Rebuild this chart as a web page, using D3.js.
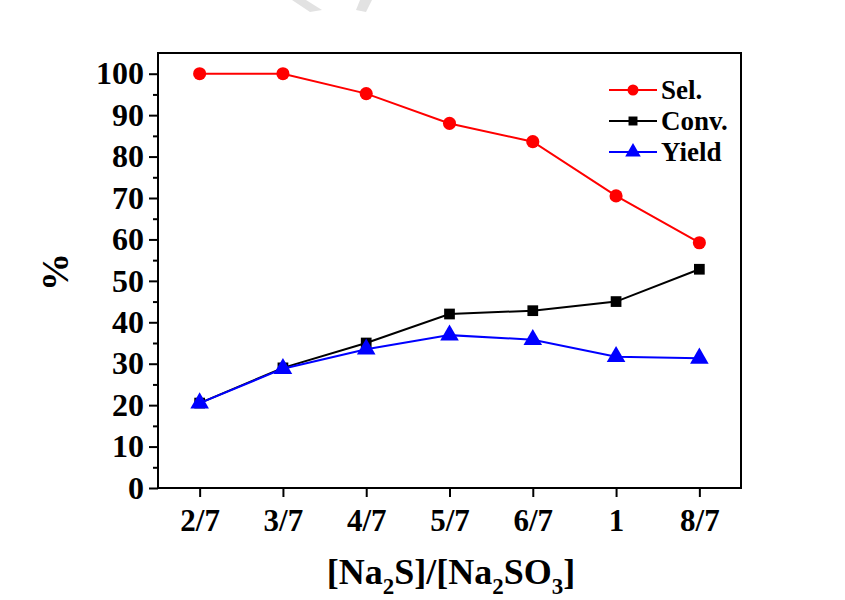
<!DOCTYPE html>
<html>
<head>
<meta charset="utf-8">
<script src="https://cdn.jsdelivr.net/npm/d3@7/dist/d3.min.js"></script>
<style>
  body { margin: 0; background: #fff; }
  svg { display: block; font-family: "Liberation Serif", "Times New Roman", serif; }
</style>
</head>
<body>
<div id="chart"></div>
<script>
// ratio labels on the x axis
const ratios = ['2/7', '3/7', '4/7', '5/7', '6/7', '1', '8/7'];
const selValues   = [100, 100, 95.2, 88.0, 83.6, 70.5, 59.2];
const convValues  = [20.5, 29.0, 35.0, 42.0, 42.8, 45.0, 52.8];
const yieldValues = [20.5, 28.8, 33.5, 36.9, 35.8, 31.7, 31.3];
const yTicks = [0, 10, 20, 30, 40, 50, 60, 70, 80, 90, 100];

const W = 845, H = 600;
const margin = { top: 53, right: 104, bottom: 112, left: 158 };
const w = W - margin.left - margin.right;
const h = H - margin.top - margin.bottom;

const svg = d3.select('#chart').append('svg')
  .attr('width', W).attr('height', H);

// faint watermark strokes at the top edge
svg.append('path').attr('d', 'M292,0 L306,0 L322,10 L310,12 Z').attr('fill', '#e2e2e2');
svg.append('path').attr('d', 'M360,0 L372,0 L366,12 L356,10 Z').attr('fill', '#e2e2e2');

const g = svg.append('g')
  .attr('transform', `translate(${margin.left},${margin.top})`);

const x = d3.scaleLinear().domain([-0.5, 6.5]).range([0, w]);
const y = d3.scaleLinear().domain([0, 105]).range([h, 0]);

// frame
g.append('rect')
  .attr('width', w).attr('height', h)
  .attr('fill', 'none').attr('stroke', '#000').attr('stroke-width', 2);

// y axis: major + minor ticks
const yAxis = g.append('g')
  .call(d3.axisLeft(y).tickValues(yTicks).tickSize(9).tickPadding(5).tickFormat(d3.format('d')));
yAxis.select('.domain').remove();
yAxis.selectAll('line').attr('stroke-width', 2);
yAxis.selectAll('text')
  .attr('font-size', 32).attr('font-weight', 'bold').attr('fill', '#000')
  .attr('font-family', '"Liberation Serif", serif');

const yMinor = g.append('g')
  .call(d3.axisLeft(y).tickValues(d3.range(5, 105, 10)).tickSize(5).tickFormat(''));
yMinor.select('.domain').remove();
yMinor.selectAll('line').attr('stroke-width', 2);

// x axis
const xAxis = g.append('g')
  .attr('transform', `translate(0,${h})`)
  .call(d3.axisBottom(x).tickValues(d3.range(ratios.length)).tickSize(9).tickPadding(12)
    .tickFormat(i => ratios[i]));
xAxis.select('.domain').remove();
xAxis.selectAll('line').attr('stroke-width', 2);
xAxis.selectAll('text')
  .attr('font-size', 31).attr('font-weight', 'bold').attr('fill', '#000')
  .attr('font-family', '"Liberation Serif", serif');

// axis titles
const xt = svg.append('text')
  .attr('x', 451).attr('y', 584)
  .attr('text-anchor', 'middle')
  .attr('font-size', 36).attr('font-weight', 'bold');
xt.append('tspan').text('[Na');
xt.append('tspan').attr('font-size', 23).attr('dy', 10).text('2');
xt.append('tspan').attr('dy', -10).text('S]/[Na');
xt.append('tspan').attr('font-size', 23).attr('dy', 10).text('2');
xt.append('tspan').attr('dy', -10).text('SO');
xt.append('tspan').attr('font-size', 23).attr('dy', 10).text('3');
xt.append('tspan').attr('dy', -10).text(']');

svg.append('text')
  .attr('transform', 'translate(68,272) rotate(-90)')
  .attr('text-anchor', 'middle')
  .attr('font-size', 38).attr('font-weight', 'bold')
  .text('%');

const series = [
  { name: 'Sel.', values: selValues, color: '#ff0000', shape: d3.symbolCircle, size: 135 },
  { name: 'Conv.', values: convValues, color: '#000000', shape: d3.symbolSquare, size: 115 },
  { name: 'Yield', values: yieldValues, color: '#0000ff', shape: d3.symbolTriangle, size: 150 }
];

const line = d3.line().x((d, i) => x(i)).y(d => y(d));

series.forEach(s => {
  g.append('path')
    .datum(s.values)
    .attr('d', line)
    .attr('fill', 'none').attr('stroke', s.color).attr('stroke-width', 2);
  g.selectAll(null)
    .data(s.values)
    .join('path')
    .attr('transform', (d, i) => `translate(${x(i)},${y(d)})`)
    .attr('d', d3.symbol().type(s.shape).size(s.size))
    .attr('fill', s.color);
});

// legend
const lg = svg.append('g').attr('transform', 'translate(609,90)');
series.forEach((s, i) => {
  const row = lg.append('g').attr('transform', `translate(0,${i * 31})`);
  row.append('line').attr('x1', 0).attr('x2', 48)
    .attr('stroke', s.color).attr('stroke-width', 2);
  row.append('path')
    .attr('transform', 'translate(24,0)')
    .attr('d', d3.symbol().type(s.shape).size(s.size * 0.7))
    .attr('fill', s.color);
  row.append('text')
    .attr('x', 52).attr('y', 9)
    .attr('font-size', 27).attr('font-weight', 'bold')
    .text(s.name);
});
</script>
</body>
</html>
